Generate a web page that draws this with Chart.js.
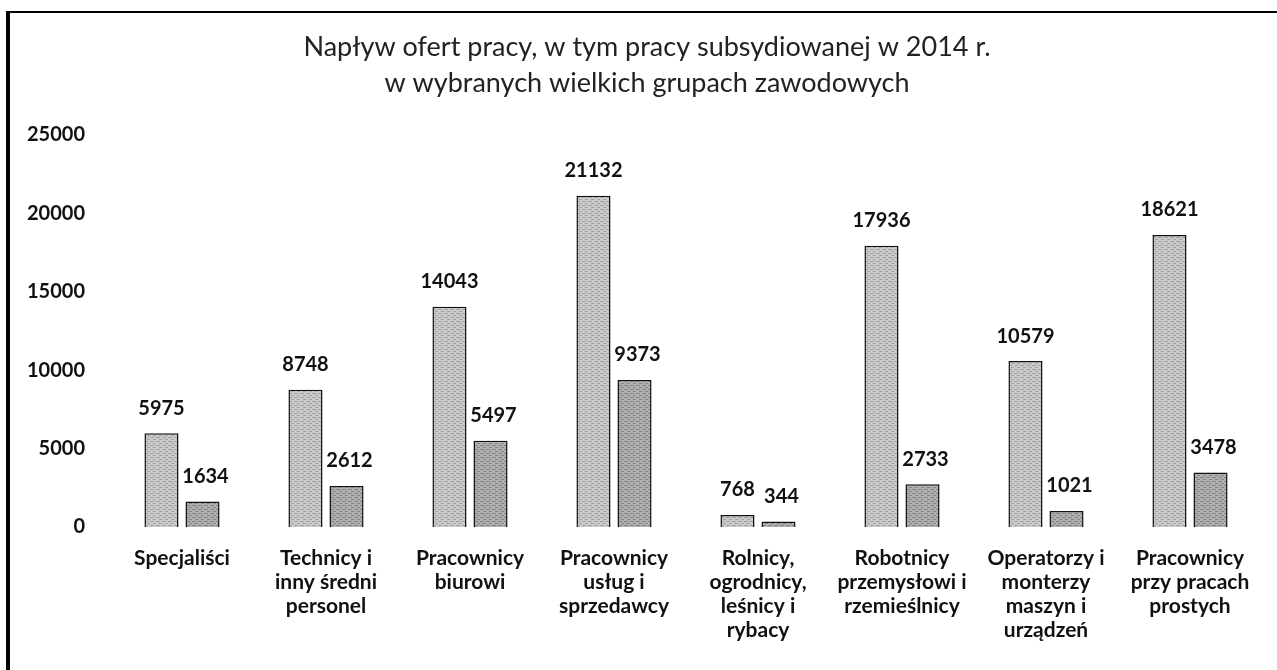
<!DOCTYPE html>
<html><head><meta charset="utf-8">
<script src="https://cdn.jsdelivr.net/npm/chart.js@4"></script>
<style>html,body{margin:0;padding:0;background:#fff}#w{width:1277px;height:670px}</style>
</head><body><div id="w"><canvas id="c" width="1277" height="670"></canvas></div>
<script>
const categories = [
  ["Specjaliści"],
  ["Technicy i", "inny średni", "personel"],
  ["Pracownicy", "biurowi"],
  ["Pracownicy", "usług i", "sprzedawcy"],
  ["Rolnicy,", "ogrodnicy,", "leśnicy i", "rybacy"],
  ["Robotnicy", "przemysłowi i", "rzemieślnicy"],
  ["Operatorzy i", "monterzy", "maszyn i", "urządzeń"],
  ["Pracownicy", "przy pracach", "prostych"]
];
const ofertyOgolem = [5975, 8748, 14043, 21132, 768, 17936, 10579, 18621];
const ofertySubsydiowane = [1634, 2612, 5497, 9373, 344, 2733, 1021, 3478];
const yTicks = [0, 5000, 10000, 15000, 20000, 25000];
const titleLines = ["Napływ ofert pracy, w tym pracy subsydiowanej w 2014 r.", "w wybranych wielkich grupach zawodowych"];

function makePattern(base, line) {
  const p = document.createElement('canvas');
  p.width = 6; p.height = 4;
  const g = p.getContext('2d');
  g.fillStyle = base; g.fillRect(0, 0, 6, 4);
  g.fillStyle = line; g.fillRect(0, 1, 4, 1); g.fillRect(3, 3, 3, 1);
  return g.createPattern(p, 'repeat');
}
const ctx = document.getElementById('c').getContext('2d');
const pat1 = makePattern('#cbcbcb', '#a3a3a3');
const pat2 = makePattern('#b0b0b0', '#868686');
const FONT = "Lato, 'Open Sans', sans-serif";

const decor = {
  id: 'decor',
  beforeDraw(chart) {
    const c = chart.ctx;
    c.save();
    c.fillStyle = '#fff'; c.fillRect(0, 0, chart.width, chart.height);
    c.fillStyle = '#000';
    c.fillRect(6, 11, 4, chart.height - 11);
    c.fillRect(6, 11, chart.width - 6, 2);
    c.fillStyle = '#222';
    c.font = "27px " + FONT;
    c.textAlign = 'center'; c.textBaseline = 'middle';
    c.fillText(titleLines[0], 647, 47);
    c.fillText(titleLines[1], 647, 83);
    c.restore();
  },
  afterDatasetsDraw(chart) {
    const c = chart.ctx;
    c.save();
    c.fillStyle = '#111';
    c.font = "bold 20px " + FONT;
    c.textAlign = 'center'; c.textBaseline = 'middle';
    chart.data.datasets.forEach((ds, i) => {
      chart.getDatasetMeta(i).data.forEach((el, j) => {
        c.fillText(String(ds.data[j]), el.x + (i === 1 ? 3 : 0), el.y - 25);
      });
    });
    c.restore();
  }
};

new Chart(ctx, {
  type: 'bar',
  data: {
    labels: categories,
    datasets: [
      { data: ofertyOgolem, backgroundColor: pat1, borderColor: '#111', borderWidth: 1.5, categoryPercentage: 0.57, barPercentage: 0.83 },
      { data: ofertySubsydiowane, backgroundColor: pat2, borderColor: '#111', borderWidth: 1.5, categoryPercentage: 0.57, barPercentage: 0.83 }
    ]
  },
  options: {
    responsive: false,
    animation: false,
    layout: { padding: { top: 135, right: 15, left: 0, bottom: 0 } },
    plugins: { legend: { display: false }, tooltip: { enabled: false }, title: { display: false } },
    scales: {
      x: {
        grid: { display: false }, border: { display: false },
        ticks: { color: '#111', font: { family: FONT, size: 21, weight: 'bold', lineHeight: 1.15 }, padding: 11, maxRotation: 0, autoSkip: false },
        afterFit(s) { s.height = 143; }
      },
      y: {
        min: 0, max: 25000,
        afterBuildTicks(s) { s.ticks = yTicks.map(v => ({ value: v })); },
        grid: { display: false }, border: { display: false },
        ticks: { color: '#111', font: { family: FONT, size: 20, weight: 'bold' }, padding: 17, callback: v => String(v) },
        afterFit(s) { s.width = 110; }
      }
    }
  },
  plugins: [decor]
});
</script></body></html>
